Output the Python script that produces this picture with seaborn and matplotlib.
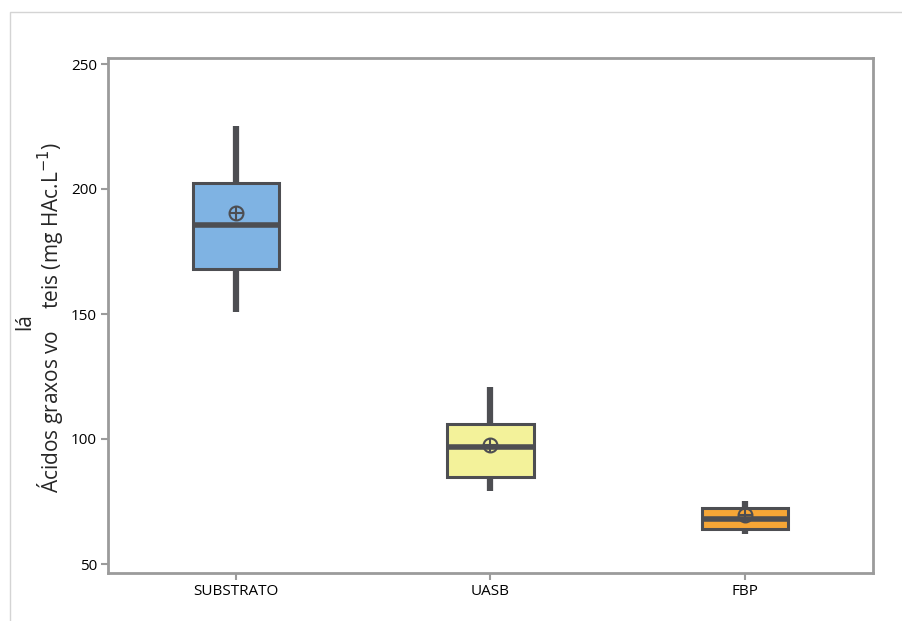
import numpy as np
import seaborn as sns
import matplotlib.pyplot as plt
from matplotlib.patches import Rectangle

# Box summary values
groups = ['SUBSTRATO', 'UASB', 'FBP']
whisker_low = [150.7, 79.2, 62.0]
q1 = [167.9, 84.7, 64.0]
median = [185.8, 97.0, 68.0]
q3 = [202.5, 105.9, 72.3]
whisker_high = [225.2, 120.9, 75.3]
means = [190.5, 97.6, 69.8]
box_colors = ['#7fb3e3', '#f3f29a', '#f6a636']
yticks = [50, 100, 150, 200, 250]

sns.set_theme(style='white')
plt.rcParams['font.family'] = ['Open Sans', 'DejaVu Sans']

edge = '#4d4e52'
fig = plt.figure(figsize=(9.03, 6.21), dpi=100)
ax = fig.add_axes([108 / 903, 1 - 573 / 621, (873 - 108) / 903, (573 - 58) / 621])

stats = []
for i, g in enumerate(groups):
    stats.append({'label': g, 'whislo': whisker_low[i], 'q1': q1[i], 'med': median[i],
                  'q3': q3[i], 'whishi': whisker_high[i], 'mean': means[i], 'fliers': []})

bp = ax.bxp(stats, positions=range(len(groups)), widths=0.34, patch_artist=True,
            showcaps=False, showfliers=False, showmeans=False,
            boxprops=dict(edgecolor=edge, linewidth=2.2),
            medianprops=dict(color=edge, linewidth=4),
            whiskerprops=dict(color=edge, linewidth=4.5, solid_capstyle='butt'))
for patch, c in zip(bp['boxes'], box_colors):
    patch.set_facecolor(c)
    patch.set_zorder(2)
for w in bp['whiskers']:
    w.set_zorder(1)

# mean markers: open circle with cross
ax.plot(range(len(groups)), means, linestyle='none', marker='o', ms=10,
        mfc='none', mec=edge, mew=1.5, zorder=4)
ax.plot(range(len(groups)), means, linestyle='none', marker='+', ms=10,
        mec=edge, mew=1.5, zorder=4)

ax.set_xlim(-0.504, 2.504)
ax.set_ylim(46.4, 252.4)
ax.set_yticks(yticks)
ax.set_xticks(range(len(groups)))
ax.set_xticklabels(groups)
for s in ax.spines.values():
    s.set_color('#9b9b9b')
    s.set_linewidth(2)
ax.tick_params(axis='both', which='both', direction='out', length=5, width=1.5,
               color='#9b9b9b', labelsize=11, labelcolor='black', pad=3,
               left=True, bottom=True)
ax.grid(False)

# y label (rendered with the 'lá' lifted above the line, as in the original)
fig.text(50 / 903, 1 - 318 / 621, 'Ácidos graxos vo    teis (mg HAc.L$^{-1}$)',
         rotation=90, ha='center', va='center', fontsize=15)
fig.text(25 / 903, 1 - 322 / 621, 'lá', rotation=90, ha='center', va='center', fontsize=15)

# light frame around the figure
fig.patches.append(Rectangle((10 / 903, -0.1), 1.2, 1 - 12 / 621 + 0.1,
                             transform=fig.transFigure, fill=False,
                             edgecolor='#d4d4d4', linewidth=1))

fig.savefig('out.png', dpi=100)
